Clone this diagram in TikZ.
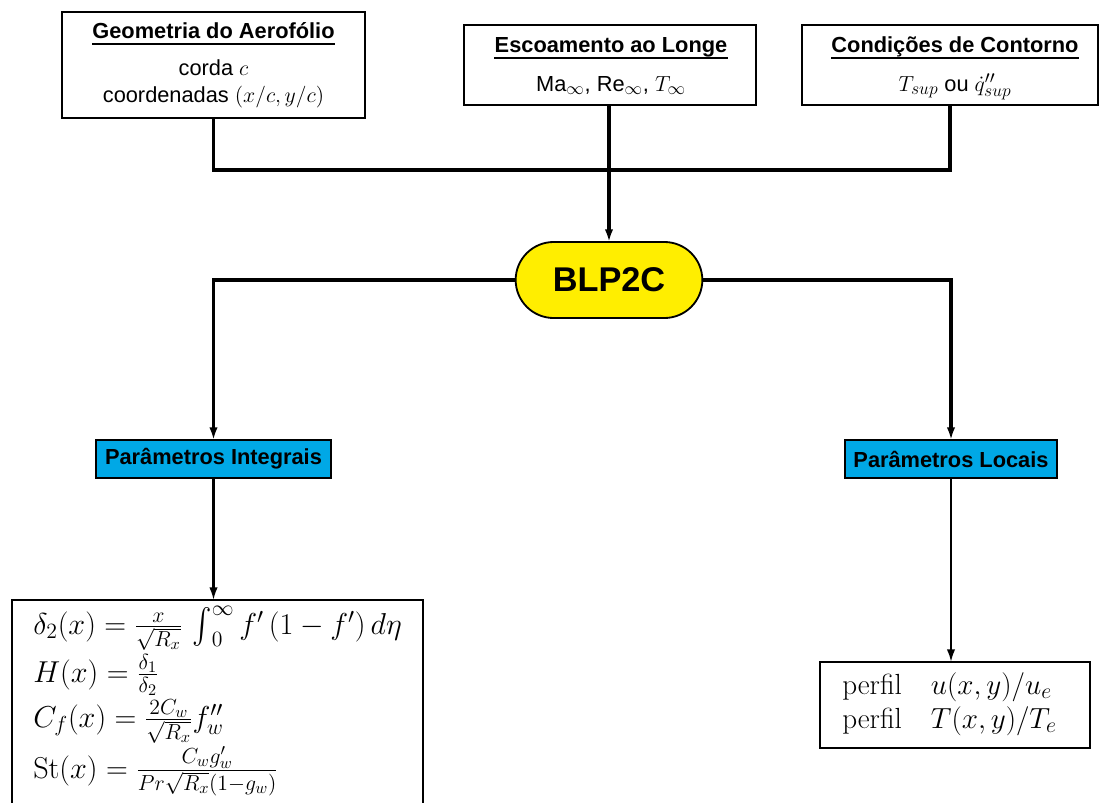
\RequirePackage{fix-cm}
\documentclass[tikz,border=0pt]{standalone}
\usepackage{amsmath}
\usepackage{fontspec}
\usepackage{graphicx}
\newfontfamily\hv{Liberation Sans}
\DeclareMathSizes{21.5}{21.5}{15.5}{11.5}
\DeclareMathSizes{20.7}{20.7}{15.5}{11.5}
\DeclareMathSizes{15.5}{15.5}{12.5}{9.5}
\newcommand\tallint{\mathop{\vcenter{\hbox{\scalebox{1}[1.2]{$\textstyle\int$}}}}\nolimits}
\usetikzlibrary{arrows.meta,shapes.misc}
\definecolor{blpyellow}{RGB}{255,238,0}
\definecolor{parblue}{RGB}{0,168,230}
\begin{document}
\begin{tikzpicture}[x=0.025cm,y=-0.025cm,
  frame/.style={draw,line width=1.3pt,inner sep=0pt,outer sep=0pt},
  sans/.style={inner sep=0pt,anchor=base,font=\hv\fontsize{15.5}{18}\selectfont},
  sanstitle/.style={sans,font=\hv\bfseries\fontsize{15.5}{18}\selectfont},
  mathline/.style={inner sep=0pt,anchor=base west,font=\fontsize{20.7}{24}\selectfont},
  eqline/.style={mathline,font=\fontsize{21.5}{25}\selectfont},
  ulinestyle/.style={line width=1.4pt},
  bus/.style={line width=2.2pt},
  busarrow/.style={line width=2.2pt,-{Latex[length=9pt,width=6pt]}},
  thinarrow/.style={line width=1.5pt,-{Latex[length=9pt,width=6pt]}},
  parbox/.style={frame,line width=1pt,fill=parblue,font=\hv\bfseries\fontsize{15.5}{18}\selectfont}
]
\useasboundingbox (0,0) rectangle (1100,803);
\clip (0,0) rectangle (1100,803);

% input boxes
\node[frame,minimum width=7.575cm,minimum height=2.65cm] (geo) at (213.5,65) {};
\node[sanstitle] (geot) at (213.5,38) {Geometria do Aerofólio};
\draw[ulinestyle] ([yshift=-4.4pt]geot.base west) -- ([yshift=-4.4pt]geot.base east);
\node[sans] (geoa) at (213.5,75) {corda $c$};
\node[sans] (geob) at (213.5,102) {coordenadas $(x/c,y/c)$};

\node[frame,minimum width=7.3cm,minimum height=2cm] (flow) at (610,65) {};
\node[sanstitle] (flowt) at (611,52) {Escoamento ao Longe};
\draw[ulinestyle] ([yshift=-4.4pt]flowt.base west) -- ([yshift=-4.4pt]flowt.base east);
\node[sans] (flowa) at (611,91) {Ma$_\infty$, Re$_\infty$, $T_\infty$};

\node[frame,minimum width=7.4cm,minimum height=2cm] (cond) at (950,65) {};
\node[sanstitle] (condt) at (955,52) {Condições de Contorno};
\draw[ulinestyle] ([yshift=-4.4pt]condt.base west) -- ([yshift=-4.4pt]condt.base east);
\node[sans] (conda) at (955,91) {$T_{sup}$ ou $\dot{q}''_{sup}$};

% solver
\node[rounded rectangle,draw,line width=1.3pt,fill=blpyellow,outer sep=0pt,
      minimum width=4.9cm,minimum height=1.9cm,
      font=\hv\bfseries\fontsize{24.4}{28}\selectfont] (blp) at (609,280) {BLP2C};

% outputs
\node[parbox,minimum width=5.875cm,minimum height=0.95cm] (integ) at (213.5,459) {Parâmetros Integrais};
\node[parbox,minimum width=5.3cm,minimum height=0.95cm] (locais) at (951,459) {Parâmetros Locais};

\node[frame,minimum width=10.275cm,minimum height=6cm,anchor=north] (eqs) at (217.5,600) {};
\node[eqline] (eq1) at (33,634) {$\delta_2(x) = \frac{x}{\sqrt{R_x}}\,\tallint_0^\infty f'\,(1-f')\,d\eta$};
\node[eqline] (eq2) at (33,682) {$H(x) = \frac{\delta_1}{\delta_2}$};
\node[eqline] (eq3) at (33,727) {$C_f(x) = \frac{2C_w}{\sqrt{R_x}} f''_w$};
\node[eqline] (eq4) at (33,778) {$\mathrm{St}(x) = \frac{C_w g'_w}{Pr\sqrt{R_x}(1-g_w)}$};

\node[frame,minimum width=6.75cm,minimum height=2.15cm] (prof) at (955,705) {};
\node[mathline] (prof1) at (842,694) {perfil\quad $u(x,y)/u_e$};
\node[mathline] (prof2) at (842,728) {perfil\quad $T(x,y)/T_e$};

% connectors
\coordinate (join) at (609,170);
\draw[bus] (geo.south) |- (join);
\draw[bus] (cond.south) |- (join);
\draw[busarrow] (flow.south -| blp.north) -- (blp.north);
\draw[busarrow] (blp.west) -| (integ.north);
\draw[busarrow] (blp.east) -| (locais.north);
\draw[thinarrow] (integ.south) -- (integ.south |- eqs.north);
\draw[thinarrow] (locais.south) -- (locais.south |- prof.north);
\end{tikzpicture}
\end{document}
